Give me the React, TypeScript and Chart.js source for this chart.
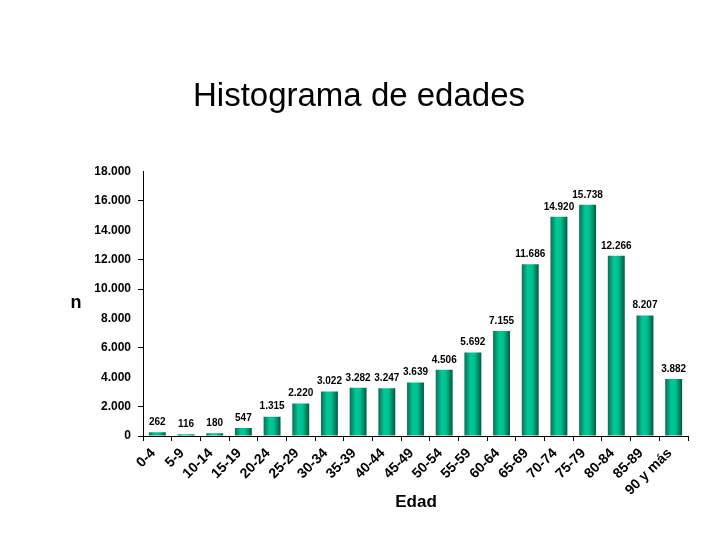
import React, { useEffect, useRef } from "react";
import { Chart, registerables } from "chart.js";

Chart.register(...registerables);

const categories = [
  "0-4", "5-9", "10-14", "15-19", "20-24", "25-29", "30-34", "35-39", "40-44",
  "45-49", "50-54", "55-59", "60-64", "65-69", "70-74", "75-79", "80-84", "85-89", "90 y más",
];
const counts = [
  262, 116, 180, 547, 1315, 2220, 3022, 3282, 3247, 3639, 4506, 5692, 7155, 11686,
  14920, 15738, 12266, 8207, 3882,
];
const yTickValues = [0, 2000, 4000, 6000, 8000, 10000, 12000, 14000, 16000, 18000];
const yTickMarks = [0, 2000, 6000, 10000, 12000, 16000];
const titleText = "Histograma de edades";
const xTitle = "Edad";
const yTitle = "n";

const FONT = "Arial, 'Liberation Sans', Helvetica, sans-serif";
const BAR_PCT = 0.59;

function fmt(n: number): string {
  return String(Math.round(n)).replace(/\B(?=(\d{3})+(?!\d))/g, ".");
}

const valueLabels = {
  id: "valueLabels",
  afterDatasetsDraw(chart: any) {
    const ctx = chart.ctx;
    const meta = chart.getDatasetMeta(0);
    ctx.save();
    ctx.font = `bold 10px ${FONT}`;
    ctx.fillStyle = "#000";
    ctx.textAlign = "center";
    ctx.textBaseline = "middle";
    meta.data.forEach((el: any, i: number) => {
      ctx.fillText(fmt(counts[i]), el.x, el.y - 10);
    });
    ctx.restore();
  },
};

const axisTitles = {
  id: "axisTitles",
  afterDraw(chart: any) {
    const ctx = chart.ctx;
    ctx.save();
    ctx.fillStyle = "#000";
    ctx.textAlign = "center";
    ctx.textBaseline = "middle";
    ctx.font = `bold 18px ${FONT}`;
    ctx.fillText(yTitle, 76, 303);
    ctx.font = `bold 17px ${FONT}`;
    ctx.fillText(xTitle, 416, 502);
    ctx.restore();
  },
};

export default function App() {
  const ref = useRef<HTMLCanvasElement>(null);
  useEffect(() => {
    if (!ref.current) return;
    const chart = new Chart(ref.current, {
      type: "bar",
      data: {
        labels: categories,
        datasets: [
          {
            data: counts,
            barPercentage: BAR_PCT,
            categoryPercentage: 1,
            backgroundColor: (c: any) => {
              const ch = c.chart;
              const xs = ch.scales && ch.scales.x;
              if (!xs || !ch.chartArea) return "#00b386";
              const cx = xs.getPixelForValue(c.dataIndex);
              const w = (xs.width / categories.length) * BAR_PCT;
              const g = ch.ctx.createLinearGradient(cx - w / 2, 0, cx + w / 2, 0);
              g.addColorStop(0, "#0d6e52");
              g.addColorStop(0.35, "#00c896");
              g.addColorStop(0.6, "#00c290");
              g.addColorStop(1, "#035a42");
              return g;
            },
            borderWidth: 0,
          },
        ],
      },
      options: {
        animation: false,
        responsive: false,
        layout: { padding: { left: 30, right: 32, top: 0, bottom: 0 } },
        plugins: {
          legend: { display: false },
          tooltip: { enabled: false },
          title: {
            display: true,
            text: titleText,
            color: "#000",
            font: { family: FONT, size: 33, weight: "normal" },
            padding: { top: 77, bottom: 55 },
          },
        },
        scales: {
          x: {
            offset: true,
            grid: {
              display: true,
              offset: true,
              drawOnChartArea: false,
              drawTicks: true,
              tickLength: 5,
              color: "#000",
            },
            border: { display: true, color: "#000", width: 1 },
            ticks: {
              autoSkip: false,
              maxRotation: 45,
              minRotation: 45,
              padding: 4,
              labelOffset: -4,
              color: "#000",
              font: { family: FONT, size: 14, weight: "bold" },
            },
            afterFit: (s: any) => {
              s.height = 104;
            },
          },
          y: {
            min: 0,
            max: 18000,
            afterBuildTicks: (s: any) => {
              s.ticks = yTickValues.map((v) => ({ value: v }));
            },
            grid: {
              display: true,
              drawOnChartArea: false,
              drawTicks: true,
              tickLength: 5,
              tickColor: (c: any) =>
                c.tick && yTickMarks.includes(c.tick.value) ? "#000" : "rgba(0,0,0,0)",
            },
            border: { display: true, color: "#000", width: 1 },
            ticks: {
              padding: 7,
              color: "#000",
              font: { family: FONT, size: 12, weight: "bold" },
              callback: (v: any) => fmt(Number(v)),
            },
            afterFit: (s: any) => {
              s.width = 113;
            },
          },
        },
      },
      plugins: [valueLabels, axisTitles],
    });
    return () => chart.destroy();
  }, []);
  return (
    <div style={{ position: "fixed", left: 0, top: 0, width: 720, height: 540, background: "#fff" }}>
      <canvas ref={ref} width={720} height={540} style={{ display: "block" }} />
    </div>
  );
}
